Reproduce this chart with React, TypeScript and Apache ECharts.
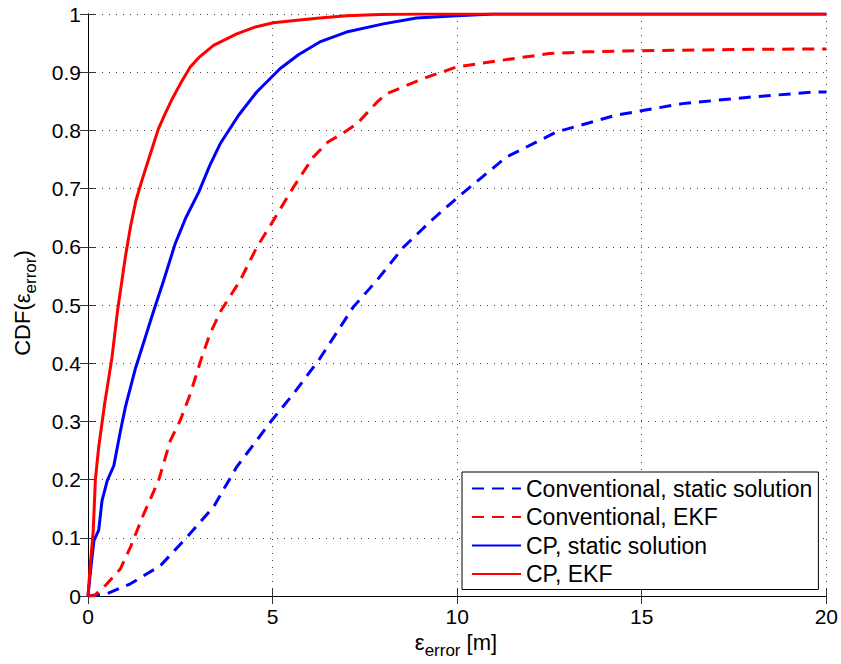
import React, { useEffect, useRef } from "react";
import * as echarts from "echarts";

const seriesNames = [
  "Conventional, static solution",
  "Conventional, EKF",
  "CP, static solution",
  "CP, EKF",
];

const convStatic: number[][] = [
  [0, 0], [0.52, 0.004], [1.15, 0.021], [1.96, 0.052], [2.68, 0.101], [3.4, 0.153],
  [4.03, 0.222], [4.98, 0.302], [5.56, 0.347], [6.28, 0.408], [7.18, 0.496], [7.82, 0.542],
  [8.54, 0.599], [9.3, 0.645], [10.07, 0.688], [11.33, 0.754], [12.68, 0.797], [14.3, 0.826],
  [16.1, 0.846], [17.9, 0.857], [19.7, 0.866], [20, 0.866],
];

const convEkf: number[][] = [
  [0, 0], [0.16, 0], [0.47, 0.018], [0.88, 0.047], [1.15, 0.084], [1.51, 0.141],
  [1.91, 0.198], [2.23, 0.267], [2.5, 0.302], [2.77, 0.347], [3.04, 0.402], [3.3, 0.45],
  [3.6, 0.49], [4.12, 0.542], [4.57, 0.599], [5.02, 0.645], [5.56, 0.702], [6.1, 0.754],
  [6.5, 0.78], [6.9, 0.795], [7.28, 0.811], [7.82, 0.848], [8.09, 0.863], [9.08, 0.889],
  [9.98, 0.909], [11.15, 0.92], [12.5, 0.932], [13.5, 0.935], [15.02, 0.937], [17.45, 0.939],
  [20, 0.94],
];

const cpStatic: number[][] = [
  [0, 0], [0.08, 0.05], [0.16, 0.095], [0.29, 0.113], [0.38, 0.164], [0.52, 0.198],
  [0.7, 0.224], [0.88, 0.284], [1.01, 0.324], [1.28, 0.39], [1.51, 0.436], [1.78, 0.49],
  [2.05, 0.542], [2.36, 0.605], [2.65, 0.65], [3.0, 0.694], [3.3, 0.74], [3.58, 0.777],
  [4.08, 0.826], [4.57, 0.866], [5.2, 0.906], [5.7, 0.93], [6.28, 0.952], [7.0, 0.969],
  [8.0, 0.983], [8.9, 0.993], [9.98, 0.997], [11, 1], [20, 1],
];

const cpEkf: number[][] = [
  [0, 0], [0.07, 0.06], [0.14, 0.11], [0.2, 0.2], [0.29, 0.256], [0.45, 0.33],
  [0.65, 0.41], [0.8, 0.49], [0.92, 0.542], [1.01, 0.582], [1.15, 0.634], [1.3, 0.68],
  [1.46, 0.714], [1.69, 0.76], [1.91, 0.803], [2.1, 0.83], [2.28, 0.854], [2.5, 0.88],
  [2.77, 0.909], [3.0, 0.925], [3.4, 0.946], [4.03, 0.966], [4.5, 0.977], [5.02, 0.985],
  [5.6, 0.989], [6.28, 0.993], [7.0, 0.997], [7.9, 0.999], [9, 1], [20, 1],
];

const seriesData = [convStatic, convEkf, cpStatic, cpEkf];
const seriesColors = ["#0000ff", "#ff0000", "#0000ff", "#ff0000"];
const seriesDashed = [true, true, false, false];

const FONT = "'Liberation Sans', Arial, sans-serif";

export default function App() {
  const ref = useRef<HTMLDivElement>(null);
  useEffect(() => {
    if (!ref.current) return;
    const chart = echarts.init(ref.current, null, { renderer: "svg" });
    const gridLine = { show: true, lineStyle: { color: "#444", width: 1, type: [1, 6] as any } };
    const tick = { show: true, inside: true, length: 8, lineStyle: { color: "#333", width: 1 } };
    const axisLine = { show: true, lineStyle: { color: "#000", width: 1 } };
    const richStyles = {
      m: { fontSize: 22, fontFamily: FONT, fill: "#000", verticalAlign: "top", lineHeight: 22 },
      s: { fontSize: 17, fontFamily: FONT, fill: "#000", padding: [11, 0, 0, 0], verticalAlign: "top", lineHeight: 17 },
    };
    const option: any = {
      animation: false,
      backgroundColor: "#fff",
      textStyle: { fontFamily: FONT },
      grid: { left: 88, top: 14, right: 13, bottom: 68, containLabel: false },
      xAxis: [
        {
          type: "value", min: 0, max: 20, interval: 5, position: "bottom",
          axisLine, axisTick: tick, splitLine: gridLine,
          axisLabel: { color: "#000", fontSize: 21, fontFamily: FONT, margin: 10 },
        },
        {
          type: "value", min: 0, max: 20, interval: 5, position: "top",
          axisLine, axisTick: tick, splitLine: { show: false }, axisLabel: { show: false },
        },
      ],
      yAxis: [
        {
          type: "value", min: 0, max: 1, interval: 0.1, position: "left",
          axisLine, axisTick: tick, splitLine: gridLine,
          axisLabel: {
            color: "#000", fontSize: 21, fontFamily: FONT, margin: 7,
            formatter: (v: number) => String(parseFloat(v.toFixed(1))),
          },
        },
        {
          type: "value", min: 0, max: 1, interval: 0.1, position: "right",
          axisLine, axisTick: tick, splitLine: { show: false }, axisLabel: { show: false },
        },
      ],
      legend: {
        orient: "vertical",
        left: 462,
        top: 472,
        padding: [5, 6, 4, 9],
        itemGap: 5.5,
        itemWidth: 49,
        itemHeight: 23,
        backgroundColor: "#fff",
        borderColor: "#000",
        borderWidth: 1,
        itemStyle: { opacity: 0, borderWidth: 0 },
        textStyle: { color: "#000", fontSize: 23, fontFamily: FONT, lineHeight: 23 },
        data: seriesNames,
      },
      series: seriesNames.map((name, i) => ({
        name,
        type: "line",
        data: seriesData[i],
        showSymbol: false,
        symbol: "none",
        lineStyle: { color: seriesColors[i], width: 3, type: seriesDashed[i] ? [12, 8] : "solid" },
        itemStyle: { color: seriesColors[i] },
        z: 3 + i,
      })),
      graphic: [
        {
          type: "text",
          x: 456,
          y: 642,
          style: {
            text: "{m|ε}{s|error}{m| [m]}",
            fill: "#000",
            align: "center",
            verticalAlign: "middle",
            rich: richStyles,
          },
        },
        {
          type: "text",
          x: 22,
          y: 303,
          rotation: Math.PI / 2,
          style: {
            text: "{m|CDF(ε}{s|error}{m|)}",
            fill: "#000",
            align: "center",
            verticalAlign: "middle",
            rich: richStyles,
          },
        },
      ],
    };
    chart.setOption(option);
    return () => chart.dispose();
  }, []);
  return (
    <div
      ref={ref}
      style={{ position: "absolute", left: 0, top: 0, width: 841, height: 664 }}
    />
  );
}
